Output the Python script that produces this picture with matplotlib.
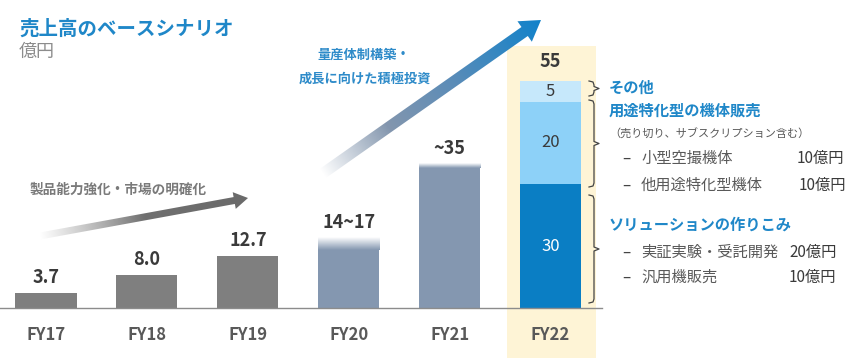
import matplotlib
matplotlib.use("Agg")
import matplotlib.pyplot as plt
import numpy as np
from matplotlib.colors import to_rgba
from matplotlib.patches import Polygon, Rectangle

plt.rcParams['font.family'] = ['Noto Sans CJK JP', 'DejaVu Sans']

# ---- data ----
years = ['FY17', 'FY18', 'FY19', 'FY20', 'FY21', 'FY22']
actual = [3.7, 8.0, 12.7]                # FY17-FY19
forecast_low = [14, 34]                   # FY20, FY21 solid part
forecast_high = [17, 35]                  # FY20, FY21 faded top
fy22_parts = [30, 20, 5]                  # solutions, special purpose, other
value_labels = ['3.7', '8.0', '12.7', '14~17', '~35', '55']

GRAY = '#7f7f7f'
SLATE = '#8497b0'
FY22_COLORS = ['#0a7ec4', '#8dd1f8', '#c6e8fb']
BLUE_TXT = '#1f87c8'
DARK = '#3a3a3a'
MID = '#595959'

fig = plt.figure(figsize=(8.59, 3.58), dpi=100)

# background / decoration layer in pixel coordinates
deco = fig.add_axes([0, 0, 1, 1], zorder=0)
deco.set_xlim(0, 859)
deco.set_ylim(358, 0)
deco.axis('off')

# main chart layer
ax = fig.add_axes([0, 0, 1, 1], zorder=1)
ax.patch.set_alpha(0)
ax.axis('off')


def gradient_arrow(axis, start, tip, shaft_w, head_w, head_l, stops):
    s = np.array(start, float)
    t = np.array(tip, float)
    L = np.linalg.norm(t - s)
    d = (t - s) / L
    n = np.array([-d[1], d[0]])
    base = t - d * head_l
    pts = [s + n * shaft_w / 2, base + n * shaft_w / 2, base + n * head_w / 2, t,
           base - n * head_w / 2, base - n * shaft_w / 2, s - n * shaft_w / 2]
    pts = np.array(pts)
    x0, y0 = pts.min(axis=0) - 2
    x1, y1 = pts.max(axis=0) + 2
    xs = np.linspace(x0, x1, 400)
    ys = np.linspace(y0, y1, 300)
    X, Y = np.meshgrid(xs, ys)
    tt = np.clip(((X - s[0]) * d[0] + (Y - s[1]) * d[1]) / L, 0, 1)
    pos = np.array([p for p, _ in stops])
    cols = np.array([to_rgba(c, a) for _, (c, a) in stops])
    img = np.zeros(X.shape + (4,))
    for k in range(4):
        img[..., k] = np.interp(tt, pos, cols[:, k])
    im = axis.imshow(img, extent=(x0, x1, y1, y0), origin='upper',
                     aspect='auto', interpolation='bilinear', zorder=2)
    poly = Polygon(pts, closed=True, facecolor='none', edgecolor='none')
    axis.add_patch(poly)
    im.set_clip_path(poly)


# FY22 highlight band
deco.add_patch(Rectangle((507, 46), 89, 312, facecolor='#fef4d6', edgecolor='none', zorder=1))

# growth arrows
gradient_arrow(deco, (40, 236), (248, 198), 7, 17, 14,
               [(0.0, ('#888888', 0.0)), (0.5, ('#707070', 1.0)), (1.0, ('#6a6a6a', 1.0))])
gradient_arrow(deco, (322, 174), (541, 20), 11, 25, 20,
               [(0.0, ('#8396ae', 0.0)), (0.3, ('#8396ae', 1.0)),
                (0.6, ('#5a8cb8', 1.0)), (1.0, ('#0f82cb', 1.0))])

# brackets on FY22 stack
def brace(y1, y2, x=594):
    mid = (y1 + y2) / 2
    xs = [x - 5, x - 1, x, x, x + 5, x, x, x - 1, x - 5]
    ys = [y1, y1 + 1, y1 + 4, mid - 2, mid, mid + 2, y2 - 4, y2 - 1, y2]
    deco.plot(xs, ys, color='#444444', lw=0.9, zorder=3)

brace(81, 96)
brace(100, 187)
brace(195, 303)

# ---- bars ----
x = np.arange(len(years))
w = 0.605
ax.bar(x[:3], actual, width=w, color=GRAY, zorder=2)
ax.bar(x[3:5], forecast_low, width=w, color=SLATE, zorder=2)
for xi, lo, hi in zip(x[3:5], forecast_low, forecast_high):
    grad = np.zeros((50, 1, 4))
    c0 = np.array(to_rgba(SLATE))
    c1 = np.array(to_rgba('white'))
    for k in range(50):
        f = k / 49
        grad[k, 0] = c0 * f + c1 * (1 - f)
    ax.imshow(grad, extent=(xi - w / 2, xi + w / 2, lo, hi), origin='upper',
              aspect='auto', zorder=2, interpolation='bilinear')

bottom = 0
for val, col in zip(fy22_parts, FY22_COLORS):
    ax.bar(x[5], val, bottom=bottom, width=w, color=col, zorder=2)
    ax.text(x[5], bottom + val / 2, str(val), ha='center', va='center', fontsize=12,
            color='white' if col == FY22_COLORS[0] else DARK, zorder=3)
    bottom += val

tops = actual + forecast_high + [sum(fy22_parts)]
for xi, top, lab in zip(x, tops, value_labels):
    off = 4.6 if xi == 5 else 3.7
    ax.text(xi, top + off, lab, ha='center', va='center', fontsize=13,
            fontweight='bold', color=DARK, zorder=3)
for xi, lab in zip(x, years):
    ax.text(xi, -6.5, lab, ha='center', va='center', fontsize=12,
            fontweight='bold', color=MID)

ax.plot([-0.456, 5.51], [0, 0], color='#8c8c8c', lw=1.0, zorder=3)
ax.set_xlim(-0.456, 8.057)
ax.set_ylim(-12.1, 74.58)

# ---- texts (pixel coordinates) ----
deco.text(19, 29, '売上高のベースシナリオ', fontsize=14, fontweight='bold',
          color=BLUE_TXT, va='center', ha='left')
deco.text(19, 52, '億円', fontsize=13, color='#8c8c8c', va='center', ha='left')
deco.text(364, 55, '量産体制構築・', fontsize=9.5, fontweight='bold',
          color='#2e8bc9', ha='center', va='center')
deco.text(365, 79, '成長に向けた積極投資', fontsize=9.5, fontweight='bold',
          color='#2e8bc9', ha='center', va='center')
deco.text(30, 190, '製品能力強化・市場の明確化', fontsize=9.8, fontweight='bold',
          color='#7a7a7a', ha='left', va='center')

deco.text(609, 88, 'その他', fontsize=11, fontweight='bold', color=BLUE_TXT, va='center')
deco.text(609, 111, '用途特化型の機体販売', fontsize=11, fontweight='bold',
          color=BLUE_TXT, va='center')
deco.text(609, 134, '（売り切り、サブスクリプション含む）', fontsize=8,
          color=MID, va='center')
deco.text(609, 225, 'ソリューションの作りこみ', fontsize=11, fontweight='bold',
          color=BLUE_TXT, va='center')

items = [('小型空撮機体', '10億円', 158, 844), ('他用途特化型機体', '10億円', 185, 846),
         ('実証実験・受託開発', '20億円', 252, 837), ('汎用機販売', '10億円', 277, 836)]
for name, amt, yy, xr in items:
    deco.text(622, yy, '–', fontsize=11, color='#444444', va='center')
    deco.text(641, yy, name, fontsize=11, color=MID, va='center')
    deco.text(xr, yy, amt, fontsize=11, color=DARK, va='center', ha='right')

fig.savefig('out.png', dpi=100)
